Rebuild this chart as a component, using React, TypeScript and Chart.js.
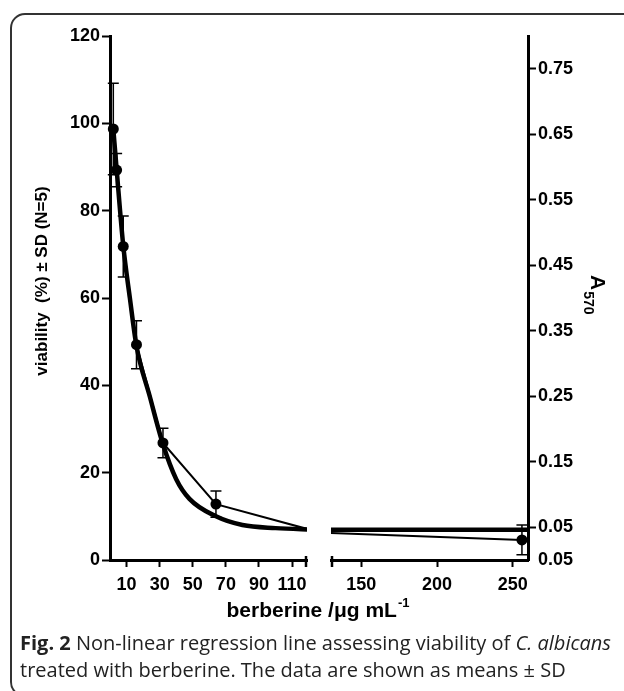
import React, { useEffect, useRef } from 'react';
import { Chart, registerables } from 'chart.js';

Chart.register(...registerables);

// ---- data ----
const concentrations = [2, 4, 8, 16, 32, 64, 128, 256];
const viabilityMean = [98.7, 89.3, 71.8, 49.3, 26.8, 12.8, 6.2, 4.6];
const viabilitySD: (number | null)[] = [10.5, 3.8, 7.0, 5.5, 3.4, 3.0, null, 3.4];
const breakConcentration = 128; // lies inside the axis break, no marker shown

const fitConcentrations = [2, 4, 8, 12, 16, 24, 32, 40, 48, 64, 80, 100, 120, 130, 260];
const fitViability = [98.7, 89.5, 72, 60, 49, 37.5, 26.5, 18.5, 14, 10, 8, 7.3, 7.0, 6.9, 6.9];

const leftAxisTicks = [0, 20, 40, 60, 80, 100, 120];
const rightAxisTicks = [0, 0.05, 0.15, 0.25, 0.35, 0.45, 0.55, 0.65, 0.75];
const rightAxisLabels = ['0.05', '0.05', '0.15', '0.25', '0.35', '0.45', '0.55', '0.65', '0.75'];
const xLeftTicks = [10, 30, 50, 70, 90, 110];
const xRightTicks = [150, 200, 250];
const xLeftRange = [0, 119];
const xRightRange = [130, 260];
const yLeftRange = [0, 120];
const yRightRange = [0, 0.8];

const yTitle = 'viability  (%) ± SD (N=5)';
const xTitleMain = 'berberine /\u03BCg mL';
const xTitleSup = '-1';
const rTitleMain = 'A';
const rTitleSub = '570';

const FONT = '"Liberation Sans", Arial, Helvetica, sans-serif';

const decorPlugin = {
  id: 'decor',
  beforeDatasetDraw(chart: any, args: any) {
    const xs = args.meta.xScale;
    const ctx = chart.ctx;
    ctx.save();
    ctx.beginPath();
    const left = xs.id === 'xL' ? 0 : xs.left;
    const right = xs.id === 'xL' ? xs.right : chart.width;
    ctx.rect(left, 0, right - left, chart.height);
    ctx.clip();
  },
  afterDatasetDraw(chart: any) {
    chart.ctx.restore();
  },
  afterDraw(chart: any) {
    const ctx = chart.ctx;
    const xL = chart.scales.xL;
    const xR = chart.scales.xR;
    const yL = chart.scales.yL;
    ctx.save();
    // error bars
    ctx.strokeStyle = '#000';
    ctx.lineWidth = 1.5;
    concentrations.forEach((c, i) => {
      const sd = viabilitySD[i];
      if (sd == null) return;
      const xs = c <= xLeftRange[1] ? xL : xR;
      const px = xs.getPixelForValue(c);
      const top = yL.getPixelForValue(viabilityMean[i] + sd);
      const bot = yL.getPixelForValue(viabilityMean[i] - sd);
      ctx.beginPath();
      ctx.moveTo(px, top);
      ctx.lineTo(px, bot);
      ctx.moveTo(px - 5.5, top);
      ctx.lineTo(px + 5.5, top);
      ctx.moveTo(px - 5.5, bot);
      ctx.lineTo(px + 5.5, bot);
      ctx.stroke();
    });
    // axis break caps
    ctx.lineWidth = 2.5;
    const yb = chart.chartArea.bottom + 1.5;
    [xL.right - 1, xR.left + 1].forEach((x: number) => {
      ctx.beginPath();
      ctx.moveTo(x, yb - 5.5);
      ctx.lineTo(x, yb + 5.5);
      ctx.stroke();
    });
    ctx.fillStyle = '#000';
    // left y title
    ctx.save();
    ctx.translate(42, 281);
    ctx.rotate(-Math.PI / 2);
    ctx.font = `bold 17px ${FONT}`;
    ctx.textAlign = 'center';
    ctx.textBaseline = 'middle';
    ctx.fillText(yTitle, 0, 0);
    ctx.restore();
    // x title with superscript
    ctx.textBaseline = 'alphabetic';
    ctx.textAlign = 'left';
    ctx.font = `bold 21px ${FONT}`;
    const w1 = ctx.measureText(xTitleMain).width;
    ctx.font = `bold 13px ${FONT}`;
    const w2 = ctx.measureText(xTitleSup).width;
    const sx = 318 - (w1 + w2 + 1) / 2;
    ctx.font = `bold 21px ${FONT}`;
    ctx.fillText(xTitleMain, sx, 617);
    ctx.font = `bold 13px ${FONT}`;
    ctx.fillText(xTitleSup, sx + w1 + 1, 607);
    // right title A570 rotated clockwise
    ctx.save();
    ctx.translate(591, 275);
    ctx.rotate(Math.PI / 2);
    ctx.font = `bold 21px ${FONT}`;
    const wa = ctx.measureText(rTitleMain).width;
    ctx.fillText(rTitleMain, 0, 0);
    ctx.font = `bold 14px ${FONT}`;
    ctx.fillText(rTitleSub, wa + 1, 7);
    ctx.restore();
    ctx.restore();
  },
};

export default function App() {
  const ref = useRef<HTMLCanvasElement>(null);

  useEffect(() => {
    const canvas = ref.current;
    if (!canvas) return;
    const meanData = concentrations.map((x, i) => ({ x, y: viabilityMean[i] }));
    const fitData = fitConcentrations.map((x, i) => ({ x, y: fitViability[i] }));
    const markerRadius = concentrations.map((c) => (c === breakConcentration ? 0 : 5.5));
    const tickFont = { family: FONT, size: 18, weight: 'bold' as const };

    const fitBase = {
      data: fitData,
      yAxisID: 'yL',
      borderColor: '#000',
      borderWidth: 4.5,
      pointRadius: 0,
      cubicInterpolationMode: 'monotone' as const,
      fill: false,
      clip: false as const,
    };
    const meanBase = {
      data: meanData,
      yAxisID: 'yL',
      borderColor: '#000',
      borderWidth: 2,
      pointRadius: markerRadius,
      pointBackgroundColor: '#000',
      pointBorderColor: '#000',
      pointBorderWidth: 0,
      tension: 0,
      fill: false,
      clip: false as const,
    };

    const xCommon = (weight: number) => ({
      type: 'linear' as const,
      position: 'bottom' as const,
      stack: 'xs',
      stackWeight: weight,
      afterFit: (s: any) => {
        s.height = 70;
      },
    });

    const chart = new Chart(canvas, {
      type: 'line',
      data: {
        datasets: [
          { ...fitBase, label: 'fit-left', xAxisID: 'xL' },
          { ...fitBase, label: 'fit-right', xAxisID: 'xR' },
          { ...meanBase, label: 'mean-left', xAxisID: 'xL' },
          { ...meanBase, label: 'mean-right', xAxisID: 'xR' },
        ],
      },
      options: {
        responsive: false,
        animation: false,
        events: [],
        layout: { padding: { top: 36, left: 0, right: 0, bottom: 0 } },
        plugins: {
          legend: { display: false },
          tooltip: { enabled: false },
          title: { display: false },
        },
        scales: {
          yL: {
            type: 'linear',
            position: 'left',
            min: yLeftRange[0],
            max: yLeftRange[1],
            afterBuildTicks: (s: any) => {
              s.ticks = leftAxisTicks.map((value) => ({ value }));
            },
            afterFit: (s: any) => {
              s.width = 110;
            },
            ticks: { font: tickFont, color: '#000', padding: 2, autoSkip: false },
            grid: { drawOnChartArea: false, drawTicks: true, tickLength: 8, color: '#000', tickWidth: 2 },
            border: { display: true, color: '#000', width: 3 },
          },
          yR: {
            type: 'linear',
            position: 'right',
            min: yRightRange[0],
            max: yRightRange[1],
            afterBuildTicks: (s: any) => {
              s.ticks = rightAxisTicks.map((value) => ({ value }));
            },
            afterFit: (s: any) => {
              s.width = 96;
            },
            ticks: {
              font: tickFont,
              color: '#000',
              padding: 2,
              autoSkip: false,
              callback: (v: any) => rightAxisLabels[rightAxisTicks.indexOf(Number(v))] ?? '',
            },
            grid: {
              drawOnChartArea: false,
              drawTicks: true,
              tickLength: 8,
              tickWidth: 2,
              color: (c: any) => (c.tick && c.tick.value === 0 ? 'rgba(0,0,0,0)' : '#000'),
            },
            border: { display: true, color: '#000', width: 3 },
          },
          xL: {
            ...xCommon(197),
            min: xLeftRange[0],
            max: xLeftRange[1],
            afterBuildTicks: (s: any) => {
              s.ticks = xLeftTicks.map((value) => ({ value }));
            },
            ticks: { font: tickFont, color: '#000', padding: 7, autoSkip: false, maxRotation: 0 },
            grid: { drawOnChartArea: false, drawTicks: true, tickLength: 7, color: '#000', tickWidth: 2 },
            border: { display: true, color: '#000', width: 3 },
          },
          xGap: {
            ...xCommon(24),
            min: 0,
            max: 1,
            ticks: { display: false },
            grid: { display: false },
            border: { display: false },
          },
          xR: {
            ...xCommon(197),
            min: xRightRange[0],
            max: xRightRange[1],
            afterBuildTicks: (s: any) => {
              s.ticks = xRightTicks.map((value) => ({ value }));
            },
            ticks: { font: tickFont, color: '#000', padding: 7, autoSkip: false, maxRotation: 0 },
            grid: { drawOnChartArea: false, drawTicks: true, tickLength: 7, color: '#000', tickWidth: 2 },
            border: { display: true, color: '#000', width: 3 },
          },
        } as any,
      },
      plugins: [decorPlugin as any],
    });
    return () => chart.destroy();
  }, []);

  return (
    <div
      style={{
        position: 'fixed',
        left: 0,
        top: 0,
        width: 624,
        height: 691,
        overflow: 'hidden',
        background: '#fff',
      }}
    >
      <div
        style={{
          position: 'absolute',
          left: 10,
          top: 13,
          width: 640,
          height: 684,
          border: '2px solid #333',
          borderTopLeftRadius: 15,
          borderBottomLeftRadius: 15,
          boxSizing: 'border-box',
        }}
      />
      <div style={{ position: 'absolute', left: 0, top: 0, width: 624, height: 630 }}>
        <canvas ref={ref} width={624} height={630} style={{ width: 624, height: 630, display: 'block' }} />
      </div>
      <div
        style={{
          position: 'absolute',
          left: 20,
          top: 629,
          width: 604,
          font: '20px "Open Sans", "Noto Sans", sans-serif',
          lineHeight: '27px',
          color: '#222',
          whiteSpace: 'nowrap',
        }}
      >
        <b>Fig. 2</b> Non-linear regression line assessing viability of <i>C. albicans</i>
        <br />
        treated with berberine. The data are shown as means ± SD
      </div>
    </div>
  );
}
